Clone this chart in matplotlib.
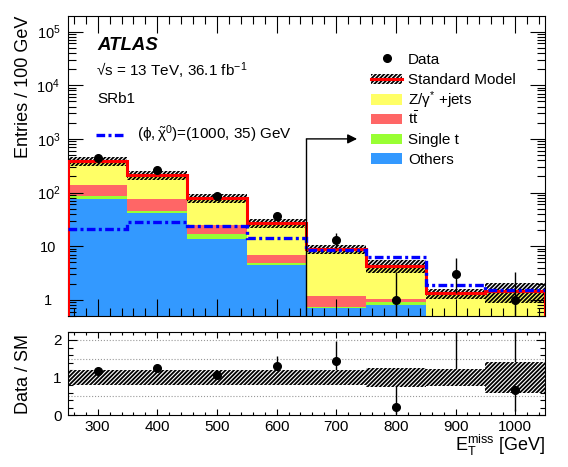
import numpy as np
import matplotlib
matplotlib.use("Agg")
import matplotlib.pyplot as plt
from matplotlib.patches import Rectangle
from matplotlib.lines import Line2D
from matplotlib.ticker import MultipleLocator, FixedLocator, LogLocator, NullFormatter

plt.rcParams['font.family'] = ['Liberation Sans', 'DejaVu Sans']
plt.rcParams['mathtext.fontset'] = 'custom'
plt.rcParams['mathtext.rm'] = 'Liberation Sans'
plt.rcParams['mathtext.it'] = 'Liberation Sans:italic'
plt.rcParams['mathtext.bf'] = 'Liberation Sans:bold'
plt.rcParams['hatch.linewidth'] = 1.3
plt.rcParams['axes.linewidth'] = 0.8

HATCH = '////////'

# bins in E_T^miss [GeV]
edges = [250, 350, 450, 550, 650, 750, 850, 950, 1050]
xticks = [300, 400, 500, 600, 700, 800, 900, 1000]

# backgrounds, events per bin (stack order bottom -> top)
others = [74.6, 40.8, 13.7, 4.5, 0.70, 0.81, 0.20, 0.20]
single_t = [11.4, 4.2, 3.5, 0.4, 0.05, 0.12, 0.05, 0.05]
ttbar = [50.0, 32.0, 7.3, 2.0, 0.45, 0.11, 0.10, 0.10]
zjets = [244.0, 135.0, 55.5, 20.6, 7.8, 3.27, 0.98, 1.14]
sm_unc = [0.19, 0.19, 0.19, 0.19, 0.19, 0.26, 0.22, 0.41]   # relative

signal = [20.5, 28.0, 23.6, 14.3, 8.5, 6.2, 1.9, 1.55]

data = [450, 268, 86, 36, 13, 1, 3, 1]
data_err_lo = [21.2, 16.4, 9.3, 6.0, 3.6, 0.83, 1.63, 0.83]
data_err_hi = [22.2, 16.9, 10.3, 7.0, 4.7, 2.30, 2.92, 2.30]

bkg_names = ['Others', 'Single t', r't$\bar{\mathrm{t}}$', r'Z/$\mathrm{\gamma}^{*}$ +jets']
bkg_colors = ['#3399ff', '#99ff33', '#ff6666', '#ffff66']

cut_x, arrow_end, arrow_y = 650, 735, 1000

edges = np.array(edges, dtype=float)
centers = 0.5 * (edges[:-1] + edges[1:])
stack = [np.array(v, float) for v in (others, single_t, ttbar, zjets)]
total = np.sum(stack, axis=0)
unc = np.array(sm_unc)
data = np.array(data, float)
elo = np.array(data_err_lo)
ehi = np.array(data_err_hi)

fig = plt.figure(figsize=(5.68, 4.67), dpi=100)
ax = fig.add_axes([0.1194, 0.3233, 0.8401, 0.6424])
ax2 = fig.add_axes([0.1194, 0.1107, 0.8401, 0.1790])

# ---- main panel
ax.set_yscale('log')
low = np.full(len(total), 1e-3)
for vals, col in zip(stack, bkg_colors):
    ax.stairs(low + vals, edges, baseline=low, fill=True, color=col, lw=0, zorder=1)
    low = low + vals

ax.stairs(total * (1 + unc), edges, baseline=total * (1 - unc), fill=True,
          facecolor='none', edgecolor='black', lw=0, hatch=HATCH, zorder=2)
ax.stairs(total, edges, baseline=1e-3, color='red', lw=2.2, zorder=3)
ax.stairs(signal, edges, baseline=None, color='blue', lw=2.4,
          linestyle=(0, (2.6, 1.0, 0.9, 1.0)), zorder=4)
ax.errorbar(centers, data, yerr=[elo, ehi], fmt='o', color='black', ms=5.5,
            lw=1, capsize=0, zorder=6)

ax.plot([cut_x, cut_x], [1e-3, arrow_y], color='black', lw=1, zorder=5)
ax.annotate('', xy=(arrow_end, arrow_y), xytext=(cut_x, arrow_y),
            arrowprops=dict(arrowstyle='-|>', color='black', lw=1,
                            mutation_scale=14, shrinkA=0, shrinkB=0), zorder=5)

ax.set_xlim(250, 1050)
ax.set_ylim(0.5, 1.95e5)
ax.xaxis.set_major_locator(MultipleLocator(100))
ax.xaxis.set_minor_locator(MultipleLocator(20))
ax.yaxis.set_major_locator(FixedLocator([1, 10, 100, 1e3, 1e4, 1e5]))
ax.set_yticklabels(['1', '10', '$10^{2}$', '$10^{3}$', '$10^{4}$', '$10^{5}$'])
ax.yaxis.set_minor_locator(LogLocator(base=10, subs=np.arange(2, 10)))
ax.yaxis.set_minor_formatter(NullFormatter())
ax.tick_params(which='both', direction='in', top=True, right=True, labelbottom=False)
ax.tick_params(axis='x', which='major', length=12, width=0.8)
ax.tick_params(axis='x', which='minor', length=6, width=0.8)
ax.tick_params(axis='y', which='major', length=10.8, width=0.8, labelsize=10.5, pad=14)
ax.tick_params(axis='y', which='minor', length=6, width=0.8)
plt.setp(ax.get_yticklabels(), ha='center')

ax.set_ylabel('Entries / 100 GeV', fontsize=13, loc='top')
ax.yaxis.set_label_coords(-0.076, 1.0)

# top-left labels
ax.text(0.062, 0.887, 'ATLAS', transform=ax.transAxes, fontsize=13.4,
        fontweight='bold', fontstyle='italic')
ax.text(0.060, 0.798, '√s = 13 TeV, 36.1 fb$^{-1}$', transform=ax.transAxes, fontsize=11)
ax.text(0.062, 0.709, 'SRb1', transform=ax.transAxes, fontsize=11)
ax.add_line(Line2D([0.060, 0.1216], [0.603, 0.603], transform=ax.transAxes,
                   color='blue', lw=2.4, linestyle=(0, (2.6, 1.0, 0.9, 1.0))))
ax.text(0.144, 0.589, r'$(\mathrm{\phi}, \tilde{\mathrm{\chi}}^{0})$=(1000, 35) GeV',
        transform=ax.transAxes, fontsize=11)

# right legend
hx, hw, hh = 0.6364, 0.0629, 0.035
tx = 0.7129
rows = [0.859, 0.790, 0.7223, 0.6567, 0.590, 0.5257]
ax.plot([hx + hw / 2], [rows[0]], 'o', color='black', ms=5.5, transform=ax.transAxes)
ax.text(tx, rows[0] - 0.0177, 'Data', transform=ax.transAxes, fontsize=11)
ax.add_patch(Rectangle((hx, rows[1] - hh / 2), hw, hh, transform=ax.transAxes,
                       facecolor='white', edgecolor='black', lw=0, hatch=HATCH))
ax.add_line(Line2D([hx, hx + hw], [rows[1], rows[1]], transform=ax.transAxes,
                   color='red', lw=2.2))
ax.text(tx, rows[1] - 0.0177, 'Standard Model', transform=ax.transAxes, fontsize=11)
for name, col, y in zip(bkg_names[::-1], bkg_colors[::-1], rows[2:]):
    ax.add_patch(Rectangle((hx, y - hh / 2), hw, hh, transform=ax.transAxes,
                           facecolor=col, lw=0))
    ax.text(tx, y - 0.0177, name, transform=ax.transAxes, fontsize=11)

# ---- ratio panel
ratio = data / total
for g in [0.5, 1.0, 1.5, 2.0]:
    ax2.axhline(g, color='#999999', ls=':', lw=0.8, zorder=0)
ax2.errorbar(centers, ratio, yerr=[elo / total, ehi / total], fmt='none',
             ecolor='black', lw=1, capsize=0, zorder=1)
ax2.stairs(1 + unc, edges, baseline=1 - unc, fill=True, facecolor='white',
           edgecolor='black', lw=0, hatch=HATCH, zorder=2)
inside = ratio < 2.2
ax2.plot(centers[inside], ratio[inside], 'o', color='black', ms=5.5, zorder=3)

ax2.set_xlim(250, 1050)
ax2.set_ylim(0, 2.22)
ax2.set_xticks(xticks)
ax2.xaxis.set_minor_locator(MultipleLocator(20))
ax2.set_yticks([0, 1, 2])
ax2.yaxis.set_minor_locator(MultipleLocator(0.2))
ax2.tick_params(which='both', direction='in', top=True, right=True)
ax2.tick_params(axis='x', which='major', length=4.5, width=0.8, labelsize=11, pad=3.5)
ax2.tick_params(axis='x', which='minor', length=2.4, width=0.8)
ax2.tick_params(axis='y', which='major', length=6.7, width=0.8, labelsize=11, pad=4.3)
ax2.tick_params(axis='y', which='minor', length=3.6, width=0.8)

ax2.set_ylabel('Data / SM', fontsize=13)
ax2.yaxis.set_label_coords(-0.076, 0.5)
ax2.set_xlabel(r'$\mathrm{E}_{\mathrm{T}}^{\mathrm{miss}}$ [GeV]', fontsize=13, loc='right')
ax2.xaxis.set_label_coords(1.0, -0.21)

fig.savefig('out.png', dpi=100)
